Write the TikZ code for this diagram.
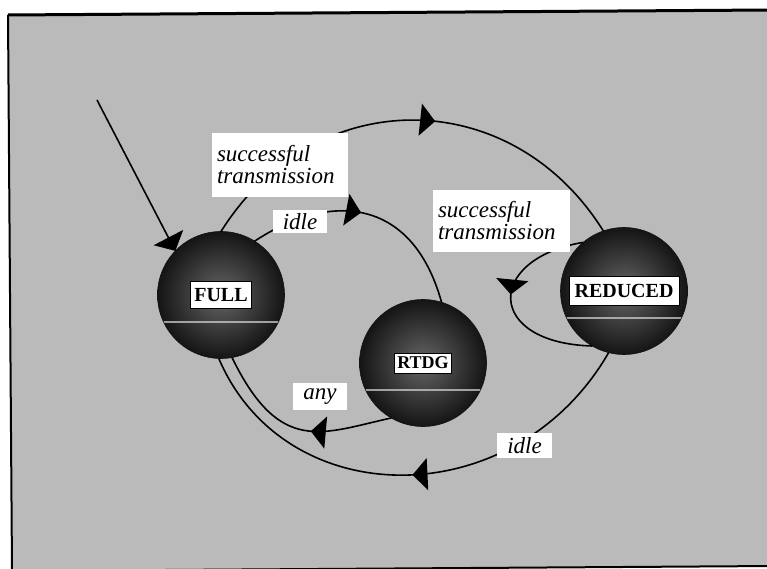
\documentclass[tikz,border=0pt]{standalone}
\usepackage{fontspec}
\newfontfamily\lblfont{Liberation Serif}
\usetikzlibrary{arrows.meta,decorations.markings,shadings}
\begin{document}
\begin{tikzpicture}[x=1pt,y=1pt,
  state/.style={circle, minimum size=127pt, inner sep=0pt, outer sep=0pt,
    draw=black!92, line width=0.6pt, shading=radial,
    inner color=black!60, outer color=black!92,
    path picture={
      \draw[white!80!black, line width=1.3pt, opacity=0.75] ([yshift=-27pt]path picture bounding box.west) -- ([yshift=-27pt]path picture bounding box.east);
    }},
  statelbl/.style={fill=white, draw=black, line width=0.5pt,
    font=\lblfont\bfseries\fontsize{20}{20}\selectfont,
    inner xsep=4pt, inner ysep=0pt, minimum height=27pt},
  edge/.style={line width=1.6pt, black},
  elbl/.style={fill=white, inner xsep=5pt, inner ysep=0pt,
    font=\lblfont\itshape\fontsize{23}{22}\selectfont},
  midarrow/.style={postaction={decorate}, decoration={markings,
    mark=at position #1 with {\arrow{Triangle[length=15pt,width=32pt]}}}},
]
\useasboundingbox (0,0) rectangle (767,568);
% background panel
\fill[black!27] (8,553) -- (771,558) -- (775,2) -- (12,-3) -- cycle;
\draw[line width=3pt] (8,553) -- (771,558);
\draw[line width=2pt] (8,553) -- (12,-3);
\draw[line width=2pt] (12,-3) -- (775,2);

% states
\node[state] (FULL) at (221,273) {};
\node[state] (RTDG) at (423,205) {};
\node[state] (REDUCED) at (624,277) {};

% connectors
\coordinate (init) at (97,468);
\draw[edge, -{Triangle[length=15pt,width=33pt]}] (init) -- (FULL.136);
\draw[edge, midarrow=0.55] (FULL.90) .. controls (314,485) and (511,485) .. (REDUCED.109);
\draw[edge, midarrow=0.47] (FULL.58) .. controls (329,376) and (412,372) .. (RTDG.73);
\draw[edge, midarrow=0.47] (REDUCED.130) .. controls (485,309) and (485,225) .. (REDUCED.240);
\draw[edge, midarrow=0.42] (RTDG.240) .. controls (322.5,135) and (280,112) .. (FULL.280);
\draw[edge, midarrow=0.5] (REDUCED.256) .. controls (515,53) and (285.5,53) .. (FULL.268);

% edge labels
\node[elbl, text width=126pt, align=left, minimum height=64pt] (lblA) at (280,403) {successful\\transmission};
\node[elbl, text width=127pt, align=left, minimum height=62pt] (lblC) at (501.5,347) {successful\\transmission};
\node[elbl, minimum width=54pt, minimum height=23pt] (lblB) at (300,346.5) {idle};
\node[elbl, minimum width=54pt, minimum height=27pt] (lblD) at (320,171.5) {any};
\node[elbl, minimum width=55pt, minimum height=25pt] (lblE) at (524.5,122.5) {idle};

% state labels
\node[statelbl] (FULLlbl) at (FULL) {FULL};
\node[statelbl, font=\lblfont\bfseries\fontsize{18}{18}\selectfont, inner xsep=3pt, minimum height=20pt] (RTDGlbl) at (RTDG) {RTDG};
\node[statelbl, inner xsep=5.5pt, minimum height=29pt] (REDUCEDlbl) at (REDUCED) {REDUCED};
\end{tikzpicture}
\end{document}
